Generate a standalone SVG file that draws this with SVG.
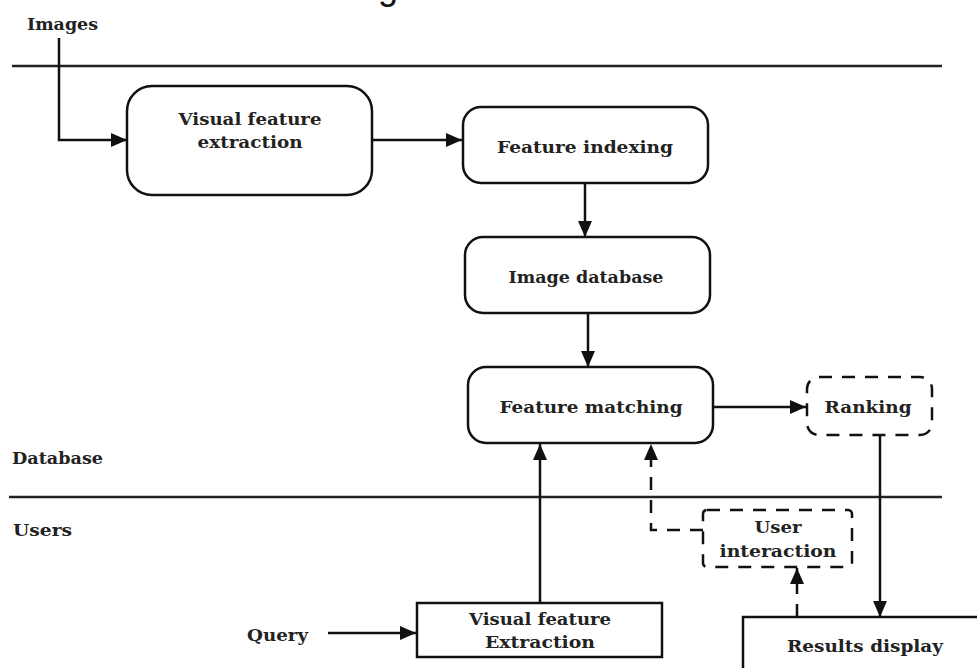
<svg xmlns="http://www.w3.org/2000/svg" width="977" height="668" viewBox="0 0 977 668">
  <defs>
    <marker id="arrow" viewBox="0 0 16 14" refX="16" refY="7" markerWidth="16" markerHeight="14" markerUnits="userSpaceOnUse" orient="auto">
      <path d="M0,0 L16,7 L0,14 Z" fill="#111"/>
    </marker>
    <style>
      .lbl { font-family: "DejaVu Serif", "Liberation Serif", serif; font-weight: bold; font-size: 16px; fill: #222; text-anchor: middle; }
      .lane { font-family: "DejaVu Serif", "Liberation Serif", serif; font-weight: bold; font-size: 16px; fill: #222; }
      .box { fill: #fff; stroke: #111; stroke-width: 2.5; }
      .dbox { fill: #fff; stroke: #111; stroke-width: 2.5; stroke-dasharray: 13 10; }
      .wire { fill: none; stroke: #111; stroke-width: 2.5; }
      .dwire { fill: none; stroke: #111; stroke-width: 2.5; stroke-dasharray: 13 10; }
      .rule { stroke: #222; stroke-width: 2.5; }
      .title { font-family: "Liberation Sans", Arial, sans-serif; font-size: 36px; fill: #111; }
    </style>
  </defs>

  <rect width="977" height="668" fill="#fff"/>

  <!-- heading, clipped by the top edge -->
  <text class="title" x="378" y="-1">g</text>

  <!-- swimlane labels and dividers -->
  <g id="lanes">
    <text class="lane" x="27" y="30" textLength="71" lengthAdjust="spacingAndGlyphs">Images</text>
    <line class="rule" x1="12" y1="66" x2="942" y2="66"/>
    <text class="lane" x="12" y="464" textLength="91" lengthAdjust="spacingAndGlyphs">Database</text>
    <line class="rule" x1="9" y1="497" x2="942" y2="497"/>
    <text class="lane" x="13" y="536" textLength="59" lengthAdjust="spacingAndGlyphs">Users</text>
    <text class="lane" x="247" y="641" textLength="61" lengthAdjust="spacingAndGlyphs">Query</text>
  </g>

  <!-- connectors -->
  <g id="connectors">
    <path class="wire" d="M59,38 V140 H127" marker-end="url(#arrow)"/>
    <path class="wire" d="M372,140 H462" marker-end="url(#arrow)"/>
    <path class="wire" d="M585,183 V237" marker-end="url(#arrow)"/>
    <path class="wire" d="M588,313 V367" marker-end="url(#arrow)"/>
    <path class="wire" d="M713,407 H806" marker-end="url(#arrow)"/>
    <path class="wire" d="M880,435 V617" marker-end="url(#arrow)"/>
    <path class="wire" d="M328,633 H416" marker-end="url(#arrow)"/>
    <path class="wire" d="M540,603 V444" marker-end="url(#arrow)"/>
    <path class="dwire" d="M703,530 H651 V444" marker-end="url(#arrow)"/>
    <path class="dwire" d="M797,617 V568" marker-end="url(#arrow)"/>
  </g>

  <g id="visual-feature-extraction">
    <rect class="box" x="127" y="86" width="245" height="109" rx="25"/>
    <text class="lbl" x="250" y="125" textLength="143" lengthAdjust="spacingAndGlyphs">Visual feature</text>
    <text class="lbl" x="250" y="148" textLength="105" lengthAdjust="spacingAndGlyphs">extraction</text>
  </g>

  <g id="feature-indexing">
    <rect class="box" x="463" y="107" width="245" height="76" rx="18"/>
    <text class="lbl" x="585" y="153" textLength="176" lengthAdjust="spacingAndGlyphs">Feature indexing</text>
  </g>

  <g id="image-database">
    <rect class="box" x="465" y="237" width="245" height="76" rx="18"/>
    <text class="lbl" x="586" y="283" textLength="155" lengthAdjust="spacingAndGlyphs">Image database</text>
  </g>

  <g id="feature-matching">
    <rect class="box" x="468" y="367" width="245" height="76" rx="18"/>
    <text class="lbl" x="591" y="413" textLength="183" lengthAdjust="spacingAndGlyphs">Feature matching</text>
  </g>

  <g id="ranking">
    <rect class="dbox" x="807" y="377" width="125" height="58" rx="12"/>
    <text class="lbl" x="868" y="413" textLength="87" lengthAdjust="spacingAndGlyphs">Ranking</text>
  </g>

  <g id="user-interaction">
    <rect class="dbox" x="703" y="510" width="149" height="57" rx="4"/>
    <text class="lbl" x="778" y="533" textLength="47" lengthAdjust="spacingAndGlyphs">User</text>
    <text class="lbl" x="778" y="557" textLength="117" lengthAdjust="spacingAndGlyphs">interaction</text>
  </g>

  <g id="query-extraction">
    <rect class="box" x="417" y="603" width="245" height="54"/>
    <text class="lbl" x="540" y="625" textLength="142" lengthAdjust="spacingAndGlyphs">Visual feature</text>
    <text class="lbl" x="540" y="648" textLength="110" lengthAdjust="spacingAndGlyphs">Extraction</text>
  </g>

  <g id="results-display">
    <rect class="box" x="743" y="617" width="260" height="80"/>
    <text class="lbl" x="865" y="652" textLength="156" lengthAdjust="spacingAndGlyphs">Results display</text>
  </g>
</svg>
